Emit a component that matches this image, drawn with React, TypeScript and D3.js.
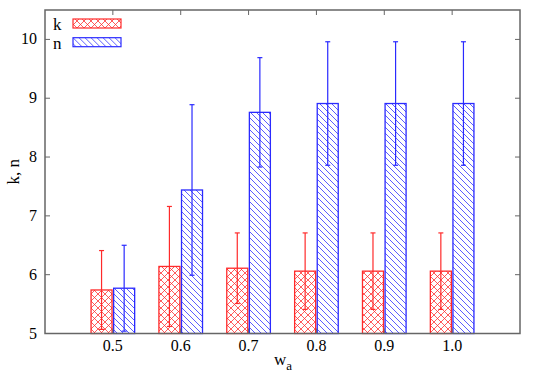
import React from 'react'
import { scaleLinear } from 'd3'

// data
const weights = [0.5, 0.6, 0.7, 0.8, 0.9, 1.0]
const weightLabels = ['0.5', '0.6', '0.7', '0.8', '0.9', '1.0']
const kMean = [5.74, 6.14, 6.11, 6.06, 6.06, 6.06]
const kErr = [0.67, 1.02, 0.6, 0.65, 0.65, 0.65]
const nMean = [5.77, 7.44, 8.76, 8.91, 8.91, 8.91]
const nErr = [0.73, 1.45, 0.93, 1.05, 1.05, 1.05]
const yTicks = [5, 6, 7, 8, 9, 10]

const W = 540
const H = 378
const left = 45
const right = 520
const top = 10
const bottom = 333.5

const App = () => {
    const x = scaleLinear().domain([0.4, 1.1]).range([left, right])
    const y = scaleLinear().domain([5, 10.5]).range([bottom, top])
    const barW = 21
    const off = 11.3
    const axisCol = '#666'
    const font = 'Times New Roman, Liberation Serif, Tinos, DejaVu Serif, serif'

    const series = [
        { name: 'k', mean: kMean, err: kErr, color: '#ff2a2a', fill: 'url(#cross)', dx: -off },
        { name: 'n', mean: nMean, err: nErr, color: '#2a2aff', fill: 'url(#hatch)', dx: off },
    ]

    return (
        <svg width={W} height={H} style={{ position: 'absolute', left: 0, top: 0, fontFamily: font }}>
            <defs>
                <pattern id="cross" width={7} height={7} patternUnits="userSpaceOnUse">
                    <path d="M0,0 L7,7 M7,0 L0,7" stroke="#ff2a2a" strokeWidth={0.9} strokeOpacity={0.85} fill="none" />
                </pattern>
                <pattern id="hatch" width={6} height={6} patternUnits="userSpaceOnUse">
                    <path d="M-1,5 L1,7 M0,0 L6,6 M5,-1 L7,1" stroke="#2a2aff" strokeWidth={0.9} strokeOpacity={0.85} fill="none" />
                </pattern>
            </defs>
            <rect width={W} height={H} fill="#fff" />

            {/* bars */}
            {series.map(s => (
                <g key={s.name}>
                    {weights.map((w, i) => (
                        <rect key={i} x={x(w) + s.dx - barW / 2} y={y(s.mean[i])} width={barW}
                            height={y(5) - y(s.mean[i])} fill={s.fill} stroke={s.color} strokeWidth={1.3} />
                    ))}
                    {weights.map((w, i) => {
                        const cx = x(w) + s.dx
                        const y1 = y(s.mean[i] + s.err[i])
                        const y2 = y(s.mean[i] - s.err[i])
                        return (
                            <g key={'e' + i} stroke={s.color} strokeWidth={1.2}>
                                <line x1={cx} x2={cx} y1={y1} y2={y2} />
                                <line x1={cx - 2.5} x2={cx + 2.5} y1={y1} y2={y1} />
                                <line x1={cx - 2.5} x2={cx + 2.5} y1={y2} y2={y2} />
                            </g>
                        )
                    })}
                </g>
            ))}

            {/* frame and ticks */}
            <rect x={left} y={top} width={right - left} height={bottom - top} fill="none" stroke={axisCol} strokeWidth={1.5} />
            {yTicks.map(t => (
                <g key={t}>
                    <line x1={left} x2={left + 5} y1={y(t)} y2={y(t)} stroke={axisCol} />
                    <line x1={right - 5} x2={right} y1={y(t)} y2={y(t)} stroke={axisCol} />
                    <text x={left - 8} y={y(t) + 5} textAnchor="end" fontSize={16}>{t}</text>
                </g>
            ))}
            {weights.map((w, i) => (
                <g key={w}>
                    <line x1={x(w)} x2={x(w)} y1={bottom} y2={bottom - 5} stroke={axisCol} />
                    <line x1={x(w)} x2={x(w)} y1={top} y2={top + 5} stroke={axisCol} />
                    <text x={x(w)} y={bottom + 17} textAnchor="middle" fontSize={16}>{weightLabels[i]}</text>
                </g>
            ))}

            {/* axis titles */}
            <text x={283} y={365} textAnchor="middle" fontSize={17}>
                w<tspan fontSize={13} dy={5}>a</tspan>
            </text>
            <text transform={`translate(19,${(top + bottom) / 2}) rotate(-90)`} textAnchor="middle" fontSize={17}>k, n</text>

            {/* legend */}
            {series.map((s, i) => (
                <g key={s.name} transform={`translate(0,${i * 18.7})`}>
                    <text x={53} y={30} fontSize={17}>{s.name}</text>
                    <rect x={73} y={19} width={48} height={9} fill={s.fill} stroke={s.color} strokeWidth={1.2} />
                </g>
            ))}
        </svg>
    )
}

export default App
